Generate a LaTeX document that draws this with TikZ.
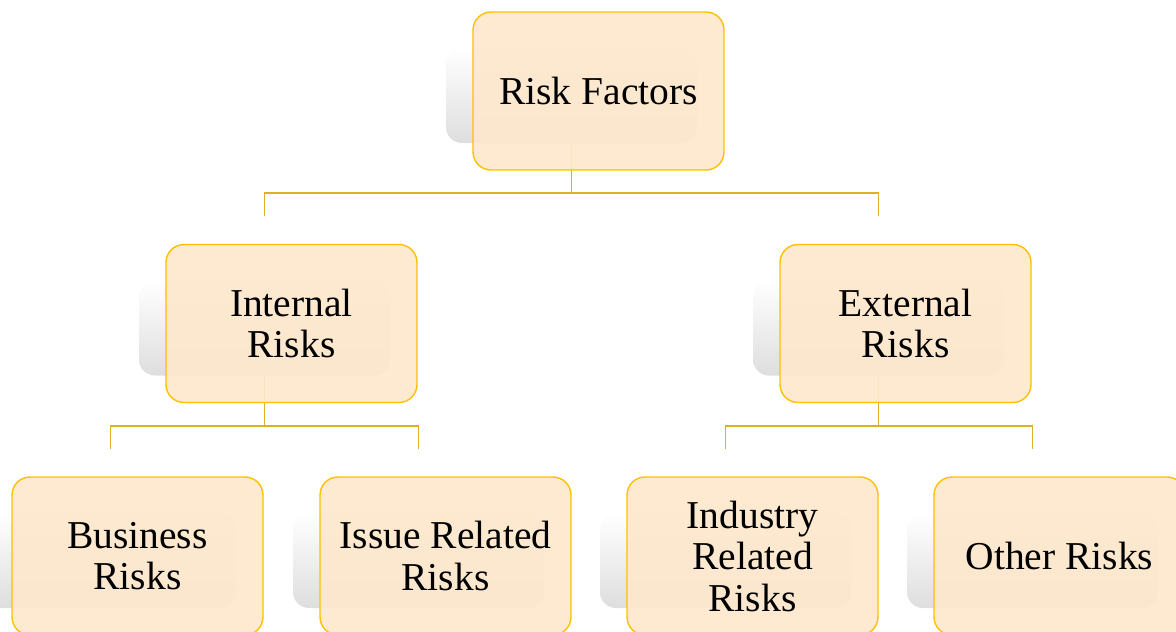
\documentclass[tikz,border=0pt]{standalone}
\usepackage{fontspec}
\setmainfont{Liberation Serif}
\definecolor{cardfill}{RGB}{253,232,205}
\definecolor{cardline}{RGB}{255,192,0}
\definecolor{linkline}{RGB}{222,176,40}
\tikzset{
  card/.style={draw=cardline, line width=1.4pt, fill=cardfill, fill opacity=0.93, text opacity=1,
    rounded corners=18pt, minimum width=251pt, minimum height=158pt, inner sep=0pt,
    align=center, font=\fontsize{39.5}{41.5}\selectfont},
  ghost/.style={rounded corners=16pt, top color=white, bottom color=black!13,
    minimum width=251pt, minimum height=95pt, inner sep=0pt},
  link/.style={draw=linkline, line width=1.6pt}
}

\begin{document}
\begin{tikzpicture}[x=1pt,y=-1pt]
  \useasboundingbox (0,0) rectangle (1176,632);
  \clip (0,0) rectangle (1176,632);
  \foreach \nm/\cx/\cy in {root/598.5/91, internal/291.5/323.5, external/905.5/323.5,
      business/137.5/556, issue/445.5/556, industry/752.5/556, other/1059.5/556}
    \node[ghost] (\nm-sh) at (\cx-27,\cy+4.5) {};

  \coordinate (internal-in) at (264.5,216);
  \coordinate (external-in) at (878.5,216);
  \coordinate (business-in) at (110.5,449);
  \coordinate (issue-in) at (418.5,449);
  \coordinate (industry-in) at (725.5,449);
  \coordinate (other-in) at (1032.5,449);

  \draw[link] (root-sh.south) -- ++(0,50);
  \draw[link] (internal-in) -- ++(0,-23) -| (external-in);
  \draw[link] (internal-sh.south) -- ++(0,50);
  \draw[link] (business-in) -- ++(0,-23) -| (issue-in);
  \draw[link] (external-sh.south) -- ++(0,50);
  \draw[link] (industry-in) -- ++(0,-23) -| (other-in);

  \foreach \nm/\cx/\cy/\txt in {root/598.5/91/{Risk Factors}, internal/291.5/323.5/{Internal\\Risks},
      external/905.5/323.5/{External\\Risks}, business/137.5/556/{Business\\Risks},
      issue/445.5/556/{Issue Related\\Risks}, industry/752.5/556/{Industry\\Related\\Risks},
      other/1059.5/556/{Other Risks}}
    \node[card] (\nm) at (\cx,\cy) {\txt};
\end{tikzpicture}
\end{document}
